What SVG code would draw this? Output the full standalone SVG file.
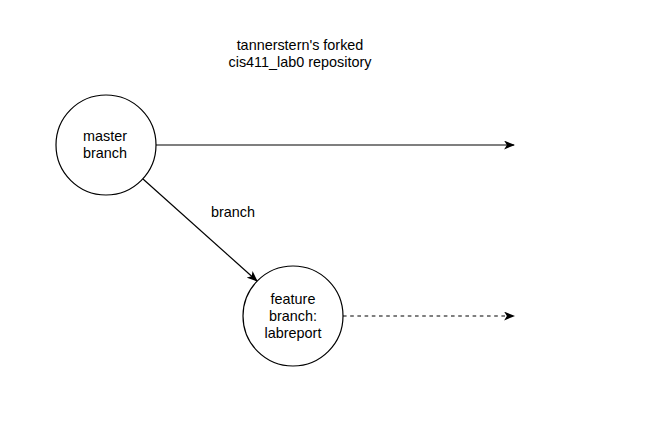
<svg xmlns="http://www.w3.org/2000/svg" width="652" height="430" viewBox="0 0 652 430">
<defs>
<style>
text{font-family:"Liberation Sans",Arial,sans-serif;font-size:14.4px;fill:#000;text-anchor:middle}
.node{fill:#fff;stroke:#000;stroke-width:1.2}
.edge{fill:none;stroke:#000;stroke-width:1.2}
</style>
<marker id="arr" viewBox="0 0 10 8" refX="9" refY="4" markerWidth="11" markerHeight="9" markerUnits="userSpaceOnUse" orient="auto">
<path d="M0,0 L10,4 L0,8 L2.5,4 Z" fill="#000"/>
</marker>
</defs>
<rect width="652" height="430" fill="#fff"/>
<g id="title">
<text x="300" y="50">tannerstern's forked</text>
<text x="300" y="67">cis411_lab0 repository</text>
</g>
<g id="connectors">
<line class="edge" x1="156" y1="145" x2="514" y2="145" marker-end="url(#arr)"/>
<line class="edge" x1="143" y1="179" x2="257" y2="281" marker-end="url(#arr)"/>
<line class="edge" x1="343" y1="316" x2="514" y2="316" stroke-dasharray="3.6 3.6" marker-end="url(#arr)"/>
<text x="233" y="217">branch</text>
</g>
<g id="master">
<circle class="node" cx="106" cy="145" r="50"/>
<text x="105" y="141">master</text>
<text x="105" y="158">branch</text>
</g>
<g id="feature">
<circle class="node" cx="293" cy="316" r="50"/>
<text x="293" y="304">feature</text>
<text x="293" y="321">branch:</text>
<text x="293" y="338">labreport</text>
</g>
</svg>
